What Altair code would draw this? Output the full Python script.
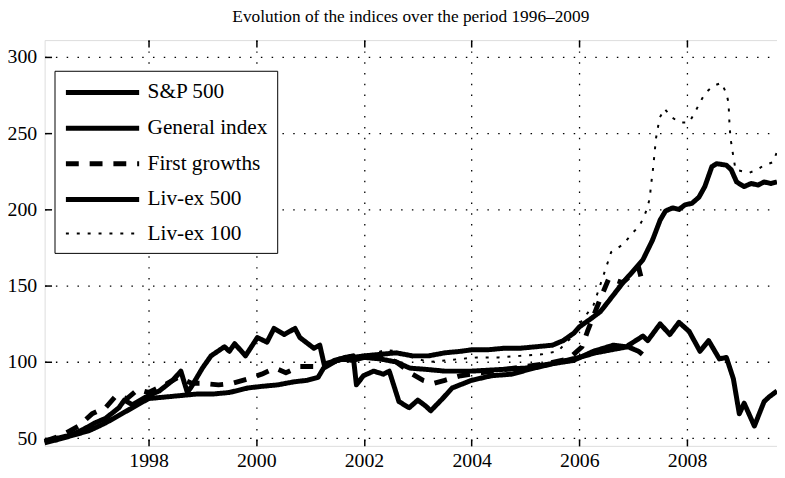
import altair as alt
import pandas as pd

series_names = ["S&P 500", "General index", "First growths", "Liv-ex 500", "Liv-ex 100"]

sp_years = [1996.07, 1996.3, 1996.55, 1996.8, 1997.0, 1997.2, 1997.45, 1997.55, 1997.7, 1997.85,
            1998.0, 1998.2, 1998.45, 1998.6, 1998.72, 1998.8, 1999.0, 1999.16, 1999.41, 1999.5,
            1999.6, 1999.8, 2000.02, 2000.2, 2000.33, 2000.52, 2000.72, 2000.81, 2001.07, 2001.18,
            2001.27, 2001.45, 2001.65, 2001.8, 2001.86, 2001.99, 2002.18, 2002.36, 2002.47, 2002.65,
            2002.84, 2003.0, 2003.15, 2003.24, 2003.46, 2003.64, 2004.0, 2004.37, 2004.74, 2005.16,
            2005.53, 2005.89, 2006.26, 2006.63, 2006.87, 2007.18, 2007.27, 2007.5, 2007.68, 2007.85,
            2008.04, 2008.24, 2008.4, 2008.6, 2008.73, 2008.86, 2008.97, 2009.06, 2009.25, 2009.43,
            2009.52, 2009.67]
sp_values = [48, 50, 52, 56, 60, 63, 70, 75, 72, 75,
             78, 81, 88, 94, 80, 84, 96, 104, 110, 107,
             112, 104, 116, 113, 122, 118, 122, 116, 109, 111,
             97, 101, 103, 104, 85, 91, 94, 92, 94, 74,
             70, 75, 71, 68, 76, 83, 88, 91, 92, 96,
             99, 101, 107, 111, 110, 117, 114, 125, 118, 126,
             120, 107, 114, 102, 103, 89, 66, 73, 58, 74,
             77, 81]

gi_years = [1996.07, 1996.3, 1996.6, 1996.9, 1997.2, 1997.5, 1997.8, 1998.0, 1998.3, 1998.6,
            1998.9, 1999.2, 1999.5, 1999.85, 2000.1, 2000.4, 2000.7, 2000.95, 2001.15, 2001.25,
            2001.35, 2001.55, 2001.8, 2002.0, 2002.3, 2002.6, 2002.85, 2003.2, 2003.5, 2004.0,
            2004.5, 2005.0, 2005.5, 2006.0, 2006.3, 2006.6, 2006.9, 2007.1, 2007.17]
gi_values = [47, 49, 52, 55, 60, 66, 72, 76, 77, 78,
             79, 79, 80, 83, 84, 85, 87, 88, 90, 96,
             98, 102, 101, 103, 102, 100, 96, 95, 94, 94,
             95, 96, 99, 103, 106, 108, 110, 107, 105]

fg_years = [1996.07, 1996.4, 1996.7, 1996.95, 1997.2, 1997.4, 1997.6, 1997.8, 1998.0, 1998.3,
            1998.55, 1998.8, 1999.0, 1999.3, 1999.55, 1999.85, 2000.1, 2000.35, 2000.55, 2000.8,
            2001.1, 2001.4, 2001.7, 2002.0, 2002.3, 2002.6, 2002.9, 2003.1, 2003.3, 2003.5,
            2003.8, 2004.2, 2004.6, 2005.0, 2005.4, 2005.8, 2006.05, 2006.15, 2006.35, 2006.55,
            2006.8, 2007.0, 2007.1, 2007.17]
fg_values = [48, 52, 58, 66, 70, 78, 76, 82, 80, 85,
             90, 86, 86, 85, 86, 89, 92, 96, 93, 97,
             97, 100, 102, 103, 104, 100, 92, 88, 86, 88,
             91, 93, 95, 97, 99, 102, 110, 120, 138, 155,
             152, 158, 162, 152]

lx5_years = [2001.3, 2001.5, 2001.8, 2002.0, 2002.3, 2002.6, 2002.9, 2003.2, 2003.5, 2003.8,
             2004.0, 2004.3, 2004.6, 2004.9, 2005.2, 2005.5, 2005.7, 2005.9, 2006.0, 2006.2,
             2006.39, 2006.48, 2006.81, 2007.18, 2007.36, 2007.5, 2007.6, 2007.73, 2007.85, 2007.96,
             2008.09, 2008.22, 2008.33, 2008.46, 2008.55, 2008.73, 2008.82, 2008.92, 2009.06, 2009.19,
             2009.32, 2009.43, 2009.56, 2009.67]
lx5_values = [98, 101, 103, 104, 105, 106, 104, 104, 106, 107,
              108, 108, 109, 109, 110, 111, 114, 119, 123, 128,
              133, 137, 152, 167, 180, 193, 199, 201, 200, 203,
              204, 208, 215, 228, 230, 229, 226, 218, 215, 217,
              216, 218, 217, 218]

lx1_years = [2001.5, 2002.0, 2002.4, 2002.6, 2002.9, 2003.2, 2003.5, 2003.8, 2004.1, 2004.5,
             2004.9, 2005.3, 2005.6, 2005.85, 2006.0, 2006.26, 2006.45, 2006.59, 2006.81, 2007.0,
             2007.11, 2007.2, 2007.27, 2007.31, 2007.33, 2007.36, 2007.38, 2007.4, 2007.42, 2007.45,
             2007.49, 2007.58, 2007.73, 2007.87, 2008.04, 2008.15, 2008.33, 2008.49, 2008.64, 2008.73,
             2008.77, 2008.79, 2008.81, 2008.84, 2008.9, 2009.15, 2009.3, 2009.43, 2009.6, 2009.67]
lx1_values = [100, 103, 108, 107, 103, 100, 101, 102, 103, 103,
              104, 105, 107, 116, 125, 137, 157, 172, 177, 185,
              189, 195, 202, 208, 216, 224, 231, 238, 246, 252,
              260, 266, 260, 257, 257, 264, 276, 281, 283, 276,
              270, 254, 246, 239, 226, 224, 226, 229, 231, 238]

x_ticks = [1998, 2000, 2002, 2004, 2006, 2008]
y_ticks = [50, 100, 150, 200, 250, 300]

rows = []
for name, ys, vs in [("S&P 500", sp_years, sp_values),
                     ("General index", gi_years, gi_values),
                     ("First growths", fg_years, fg_values),
                     ("Liv-ex 500", lx5_years, lx5_values),
                     ("Liv-ex 100", lx1_years, lx1_values)]:
    assert len(ys) == len(vs), name
    for i, (yr, v) in enumerate(zip(ys, vs)):
        rows.append({"series": name, "year": yr, "value": v, "order": i})
df = pd.DataFrame(rows)

FONT = "Liberation Serif"
dash_range = [[1, 0], [1, 0], [13, 11], [1, 0], [3, 8]]
width_range = [5, 5, 5, 5, 2]

xscale = alt.Scale(domain=[1996.07, 2009.67], nice=False, zero=False)
yscale = alt.Scale(domain=[45, 311], nice=False, zero=False)

# horizontal stroke symbol about 70 px long (symbolSize 441 -> half-scale 10.5)
stroke_path = "M-1,0L6.05,0"

legend_common = dict(
    title=None, orient="none", legendX=10, legendY=31,
    symbolType=stroke_path, symbolSize=441, symbolStrokeColor="black",
    labelFont=FONT, labelFontSize=21.5, labelColor="black", labelOffset=59,
    strokeColor="black", fillColor="white", padding=9, rowPadding=12,
    labelLimit=300,
)

axis_common = dict(
    title=None, grid=True, gridColor="black", gridDash=[1.5, 9.4], gridWidth=1.3, gridOpacity=1,
    domain=False, offset=-7, tickSize=7, tickColor="black", tickWidth=1.5,
    labelFont=FONT, labelFontSize=20, labelColor="black",
)

lines = alt.Chart(df).mark_line(color="black", strokeCap="butt", strokeJoin="round").encode(
    x=alt.X("year:Q", scale=xscale,
            axis=alt.Axis(values=x_ticks, format="d", labelPadding=5, **axis_common)),
    y=alt.Y("value:Q", scale=yscale,
            axis=alt.Axis(values=y_ticks, labelPadding=8, **axis_common)),
    strokeDash=alt.StrokeDash("series:N", sort=series_names,
                              scale=alt.Scale(domain=series_names, range=dash_range),
                              legend=alt.Legend(**legend_common)),
    strokeWidth=alt.StrokeWidth("series:N", sort=series_names,
                                scale=alt.Scale(type="ordinal", domain=series_names, range=width_range),
                                legend=alt.Legend(**legend_common)),
    order="order:Q",
)

top_ticks = alt.Chart(df).mark_line(strokeOpacity=0).encode(
    x=alt.X("year:Q", scale=xscale,
            axis=alt.Axis(values=x_ticks, orient="top", labels=False, title=None, grid=False,
                          domain=False, offset=-7, tickSize=7, tickColor="black", tickWidth=1.5)),
    y=alt.Y("value:Q", scale=yscale),
    detail="series:N",
)

chart = alt.layer(lines, top_ticks).resolve_axis(x="independent").properties(
    width=740, height=410,
    title=alt.TitleParams("Evolution of the indices over the period 1996–2009",
                          font=FONT, fontSize=17.5, fontWeight="normal", color="black",
                          anchor="middle", offset=14),
    autosize=alt.AutoSizeParams(type="none"),
    padding={"left": 37, "top": 30, "right": 0, "bottom": 28},
).configure_view(stroke="black", strokeWidth=1.5).configure(background="white")

chart.save("out.html", embed_options={"renderer": "svg", "actions": False})
